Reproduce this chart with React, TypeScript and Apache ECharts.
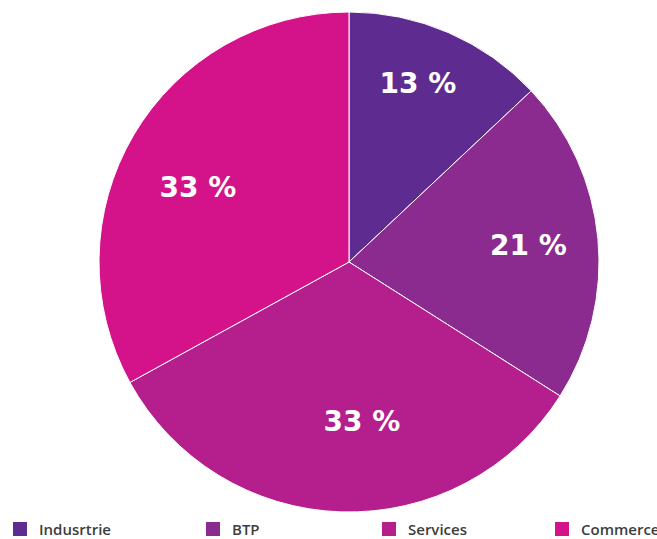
import React, { useEffect, useRef } from "react";
import * as echarts from "echarts";

const categories = ["Indusrtrie", "BTP", "Services", "Commerce"];
const shares = [13, 21, 33, 33];
const colors = ["#5e2c91", "#8b2b8f", "#b41e8d", "#d4138a"];
const labelShift: number[][] = [
  [18, -61],
  [52, -4],
  [17, 32],
  [-41, -9],
];
const legendLeft = [11, 204, 380, 553];

export default function App() {
  const ref = useRef<HTMLDivElement>(null);
  useEffect(() => {
    if (!ref.current) return;
    const chart = echarts.init(ref.current, null, { renderer: "svg" });
    chart.setOption({
      animation: false,
      backgroundColor: "#ffffff",
      color: colors,
      legend: categories.map((c, i) => ({
        data: [c],
        left: legendLeft[i],
        top: 520,
        itemWidth: 16,
        itemHeight: 16,
        icon: "rect",
        selectedMode: false,
        padding: 0,
        textStyle: {
          fontFamily: "Open Sans",
          fontSize: 15,
          fontWeight: 600,
          lineHeight: 16,
          color: "#3d3d3d",
          padding: [0, 0, 0, 6],
        },
      })),
      series: [
        {
          type: "pie",
          center: [349, 262],
          radius: [0, 250],
          startAngle: 90,
          clockwise: true,
          silent: true,
          itemStyle: { borderColor: "#ffffff", borderWidth: 1 },
          label: {
            show: true,
            position: "inside",
            formatter: "{c} %",
            color: "#ffffff",
            fontFamily: "DejaVu Sans",
            fontWeight: "bold",
            fontSize: 28,
          },
          labelLine: { show: false },
          labelLayout: (p: any) => ({
            dx: labelShift[p.dataIndex][0],
            dy: labelShift[p.dataIndex][1],
          }),
          emphasis: { disabled: true },
          data: categories.map((c, i) => ({ name: c, value: shares[i] })),
        },
      ],
    });
    return () => chart.dispose();
  }, []);
  return (
    <div
      ref={ref}
      style={{ position: "fixed", left: 0, top: 0, width: 657, height: 539 }}
    />
  );
}
